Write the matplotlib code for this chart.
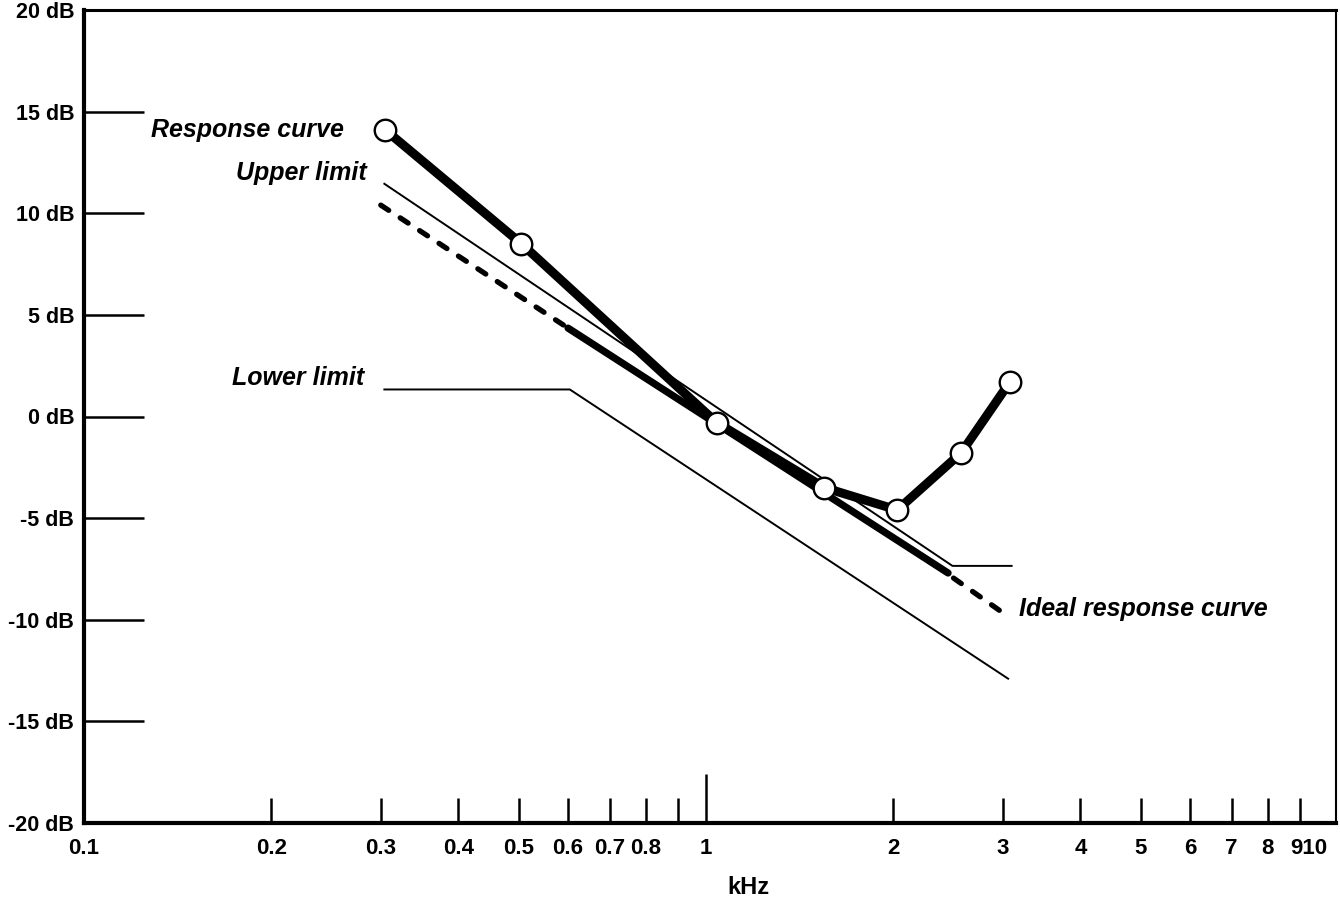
import matplotlib.pyplot as plt

plt.rcParams['font.family'] = ['Liberation Sans', 'DejaVu Sans']

# measured response (kHz, dB)
resp_f = [0.305, 0.505, 1.04, 1.55, 2.03, 2.57, 3.08]
resp_db = [14.1, 8.5, -0.3, -3.5, -4.6, -1.8, 1.7]

# ideal response curve, dashed ends and a solid middle part
ideal_f_lo = [0.3, 0.59]
ideal_db_lo = [10.4, 4.5]
ideal_f_mid = [0.6, 2.45]
ideal_db_mid = [4.35, -7.7]
ideal_f_hi = [2.5, 3.08]
ideal_db_hi = [-7.95, -9.9]

# limits
upper_f = [0.304, 2.49, 3.1]
upper_db = [11.45, -7.35, -7.35]
lower_f = [0.304, 0.604, 3.06]
lower_db = [1.33, 1.33, -12.9]

ytick_vals = [-20, -15, -10, -5, 0, 5, 10, 15, 20]
minor_vals = [0.1, 0.2, 0.3, 0.4, 0.5, 0.6, 0.7, 0.8, 0.9, 2, 3, 4, 5, 6, 7, 8, 9]
minor_labels = ['0.1', '0.2', '0.3', '0.4', '0.5', '0.6', '0.7', '0.8', '',
                '2', '3', '4', '5', '6', '7', '8', '']

fig = plt.figure(figsize=(13.4, 9.07), dpi=100)
ax = fig.add_axes([84/1340, 84/907, 1252/1340, 813/907])

ax.set_xscale('log')
ax.set_xlim(0.1, 10.3)
ax.set_ylim(-20, 20)

# ideal curve
ax.plot(ideal_f_lo, ideal_db_lo, color='black', lw=3.8, dashes=(1.8, 2.6),
        dash_capstyle='round')
ax.plot(ideal_f_mid, ideal_db_mid, color='black', lw=5.2, solid_capstyle='round')
ax.plot(ideal_f_hi, ideal_db_hi, color='black', lw=3.8, dashes=(1.8, 2.6),
        dash_capstyle='round')

# limit lines
ax.plot(upper_f, upper_db, color='black', lw=1.4)
ax.plot(lower_f, lower_db, color='black', lw=1.4)

# response
ax.plot(resp_f, resp_db, color='black', lw=6.5, solid_capstyle='round',
        solid_joinstyle='round', zorder=4)
ax.plot(resp_f, resp_db, ls='none', marker='o', ms=15.5, mfc='white',
        mec='black', mew=1.7, zorder=5)

# labels
lab = dict(fontsize=18, fontweight='bold', fontstyle='italic', va='center')
ax.text(0.262, 14.1, 'Response curve', ha='right', **lab)
ax.text(0.285, 12.0, 'Upper limit', ha='right', **lab)
ax.text(0.282, 1.9, 'Lower limit', ha='right', **lab)
ax.text(3.19, -9.45, 'Ideal response curve', ha='left', **lab)

# axes frame
ax.spines['left'].set_linewidth(3)
ax.spines['bottom'].set_linewidth(3)
ax.spines['top'].set_linewidth(2.2)
ax.spines['right'].set_linewidth(1.5)

ax.set_yticks(ytick_vals)
ax.set_yticklabels([f'{v} dB' for v in ytick_vals])
ax.tick_params(axis='y', direction='in', length=43, width=1.8, pad=7,
               labelsize=15.5)

ax.set_xticks([1])
ax.set_xticklabels(['1'])
ax.set_xticks(minor_vals, labels=minor_labels, minor=True)
ax.tick_params(axis='x', which='major', direction='in', length=35, width=1.8,
               pad=11, labelsize=16)
ax.tick_params(axis='x', which='minor', direction='in', length=18, width=1.8,
               pad=11, labelsize=16)
for t in ax.get_xticklabels(which='both'):
    t.set_fontweight('bold')
for t in ax.get_yticklabels():
    t.set_fontweight('bold')

ax.annotate('910', xy=(9, 0), xycoords=('data', 'axes fraction'),
            xytext=(7, -11), textcoords='offset points', ha='center',
            va='top', fontsize=16, fontweight='bold')

fig.text(748/1340, 1 - 888/907, 'kHz', ha='center', va='center',
         fontsize=17, fontweight='bold')

fig.savefig('out.png', dpi=100)
